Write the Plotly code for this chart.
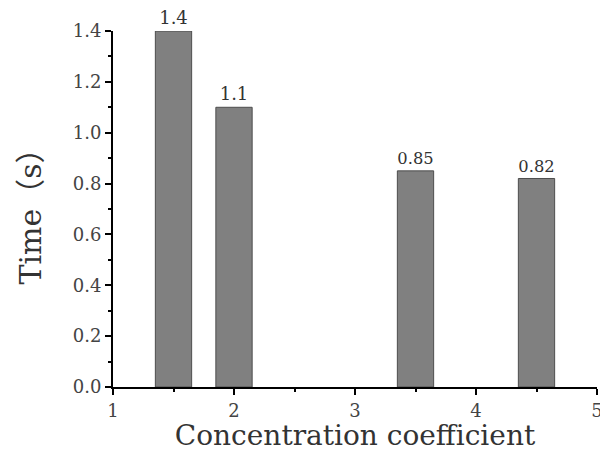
import plotly.graph_objects as go

x_vals = [1.5, 2, 3.5, 4.5]
times = [1.4, 1.1, 0.85, 0.82]
labels = ["1.4", "1.1", "0.85", "0.82"]
x_ticks = [1, 2, 3, 4, 5]
y_ticks = [0, 0.2, 0.4, 0.6, 0.8, 1.0, 1.2, 1.4]
y_ticktext = ["0.0", "0.2", "0.4", "0.6", "0.8", "1.0", "1.2", "1.4"]

FONT = "DejaVu Serif, Noto Sans CJK SC, serif"

fig = go.Figure(go.Bar(
    x=x_vals, y=times, width=0.3,
    marker=dict(color="#808080", line=dict(color="#4d4d4d", width=1)),
    text=labels, textposition="outside", cliponaxis=False,
    textfont=dict(family=FONT, size=18, color="#333"),
))

fig.update_layout(
    width=600, height=452,
    margin=dict(l=113, r=3, t=31, b=65),
    plot_bgcolor="white", paper_bgcolor="white",
    font=dict(family=FONT, color="#333"),
    showlegend=False,
    xaxis=dict(
        range=[1, 5], tickvals=x_ticks,
        showgrid=False, zeroline=False, automargin=False,
        showline=True, linecolor="black", linewidth=2,
        ticks="outside", ticklen=6, tickwidth=2, tickcolor="black",
        ticklabeloverflow="allow",
        minor=dict(tickvals=[1.5, 2.5, 3.5, 4.5], ticks="outside", ticklen=3, tickwidth=2, tickcolor="black"),
        tickfont=dict(family=FONT, size=18, color="#444"),
        title=dict(text="Concentration coefficient", font=dict(family=FONT, size=28, color="#333"), standoff=0),
    ),
    yaxis=dict(
        range=[0, 1.4], tickvals=y_ticks, ticktext=y_ticktext,
        showgrid=False, zeroline=False,
        showline=True, linecolor="black", linewidth=2,
        ticks="outside", ticklen=6, tickwidth=2, tickcolor="black",
        minor=dict(tickvals=[0.1, 0.3, 0.5, 0.7, 0.9, 1.1, 1.3], ticks="outside", ticklen=3, tickwidth=2, tickcolor="black"),
        tickfont=dict(family=FONT, size=18, color="#444"),
        title=dict(text="Time（s）", font=dict(family=FONT, size=30, color="#333"), standoff=22),
    ),
)

fig.write_html("out.html")
